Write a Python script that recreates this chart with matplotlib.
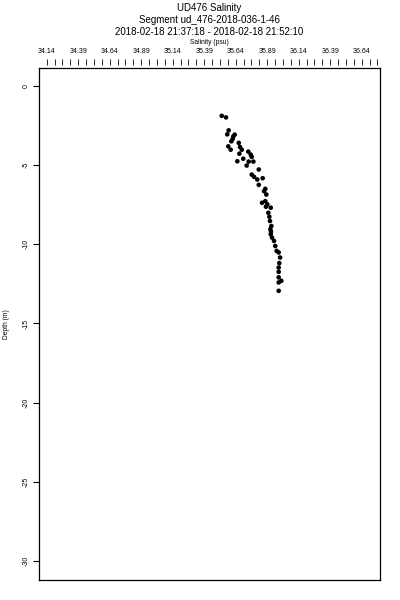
import matplotlib
matplotlib.use('Agg')
import matplotlib.pyplot as plt
from matplotlib.ticker import FixedLocator, MultipleLocator
import numpy as np

plt.rcParams['font.family'] = ['Liberation Sans', 'DejaVu Sans']

title_lines = ['UD476 Salinity',
               'Segment ud_476-2018-036-1-46',
               '2018-02-18 21:37:18 - 2018-02-18 21:52:10']

salinity = [35.529, 35.563, 35.584, 35.573, 35.632, 35.616, 35.605, 35.664,
            35.581, 35.600, 35.674, 35.688, 35.669, 35.653, 35.740, 35.759,
            35.767, 35.743, 35.780, 35.727, 35.823, 35.767, 35.785, 35.811,
            35.854, 35.823, 35.875, 35.865, 35.883, 35.849, 35.875, 35.891,
            35.880, 35.918, 35.899, 35.907, 35.912, 35.923, 35.918, 35.928,
            35.944, 35.954, 35.965, 35.981, 35.992, 35.986, 35.981, 35.981,
            35.981, 36.002, 35.981, 35.981, 35.620, 35.700, 35.915, 35.920]
depth = [-1.89, -1.99, -2.81, -3.06, -3.08, -3.35, -3.50, -3.60,
         -3.82, -4.03, -3.86, -4.03, -4.28, -4.76, -4.15, -4.34,
         -4.48, -4.78, -4.78, -5.03, -5.28, -5.60, -5.74, -5.91,
         -5.83, -6.25, -6.50, -6.65, -6.86, -7.38, -7.28, -7.48,
         -7.63, -7.69, -8.01, -8.26, -8.53, -8.85, -9.37, -9.58,
         -9.79, -10.11, -10.42, -10.52, -10.84, -11.19, -11.47, -11.74,
         -12.09, -12.31, -12.41, -12.94, -3.20, -4.60, -9.05, -9.20]

sal_ticks = [34.14, 34.39, 34.64, 34.89, 35.14, 35.39, 35.64, 35.89, 36.14, 36.39, 36.64]
depth_ticks = [0, -5, -10, -15, -20, -25, -30]

fig = plt.figure(figsize=(4, 6), dpi=100)
ax = fig.add_axes([0.0975, 0.0333, 0.8525, 0.8534])

ax.scatter(salinity, depth, s=11, c='black', edgecolors='none')

ax.set_xlim(34.079, 36.785)
ax.set_ylim(-31.2, 1.13)

# bottom axis: nothing
ax.set_xticks([])

ax.set_yticks(depth_ticks)
ax.set_yticklabels([str(t) for t in depth_ticks], rotation=90, va='center', fontsize=5)
ax.tick_params(axis='y', direction='out', length=4, width=0.8, pad=3)
ax.set_ylabel('Depth (m)', fontsize=4.8, labelpad=9)

for sp in ax.spines.values():
    sp.set_linewidth(0.9)

# floating top salinity axis
top = ax.twiny()
top.set_xlim(ax.get_xlim())
top.spines['top'].set_position(('outward', 2.5))
for sp in top.spines.values():
    sp.set_visible(False)
top.xaxis.set_major_locator(FixedLocator(sal_ticks))
top.set_xticklabels(['%.2f' % t for t in sal_ticks], fontsize=5)
top.xaxis.set_minor_locator(MultipleLocator(0.0625, offset=34.14 % 0.0625))
top.tick_params(axis='x', which='both', direction='out', length=4, width=0.6, pad=3)
top.set_xlabel('Salinity (psu)', fontsize=4.8, labelpad=3)

for i, line in enumerate(title_lines):
    fig.text(0.524, 1 - (8 + 12 * i) / 600, line, ha='center', va='center', fontsize=7)

fig.savefig('out.png', dpi=100)
